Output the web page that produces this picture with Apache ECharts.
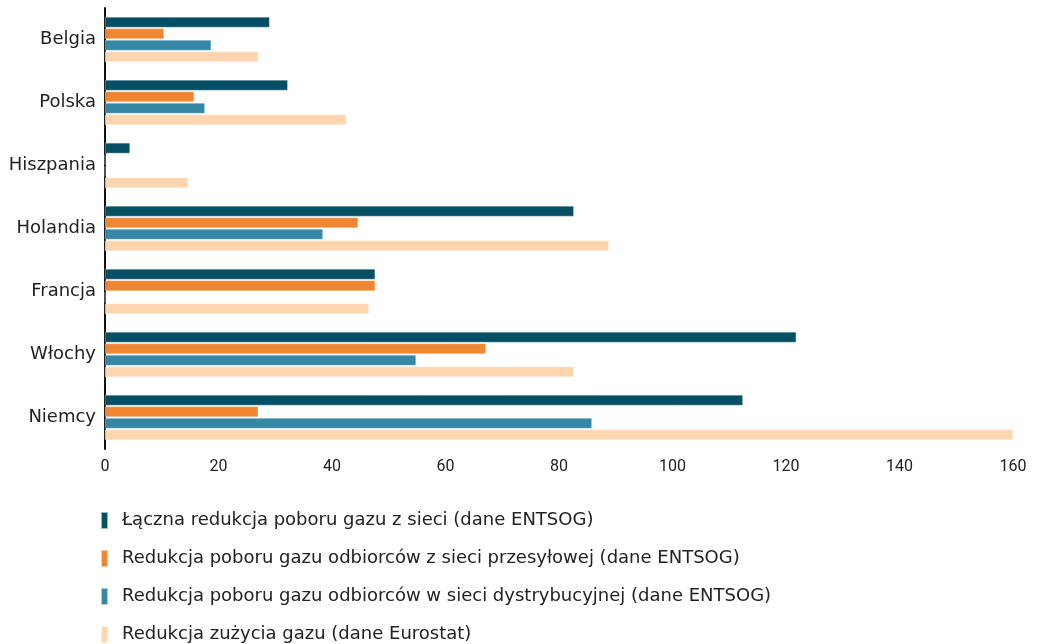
<!DOCTYPE html>
<html><head><meta charset="utf-8">
<script src="https://cdn.jsdelivr.net/npm/echarts@6/dist/echarts.min.js"></script>
<style>html,body{margin:0;padding:0;background:#fff}#c{width:1042px;height:644px}</style>
</head><body><div id="c"></div>
<script>
const categories = ['Belgia','Polska','Hiszpania','Holandia','Francja','Włochy','Niemcy'];
const seriesNames = [
  'Łączna redukcja poboru gazu z sieci (dane ENTSOG)',
  'Redukcja poboru gazu odbiorców z sieci przesyłowej (dane ENTSOG)',
  'Redukcja poboru gazu odbiorców w sieci dystrybucyjnej (dane ENTSOG)',
  'Redukcja zużycia gazu (dane Eurostat)'
];
const totalEntsog = [29.0, 32.2, 4.4, 82.6, 47.6, 121.8, 112.4];
const transmission = [10.4, 15.7, 0, 44.6, 47.6, 67.1, 27.0];
const distribution = [18.7, 17.6, 0, 38.4, 0, 54.8, 85.8];
const eurostat = [27.0, 42.5, 14.6, 88.8, 46.5, 82.6, 160];
const xTicks = [0, 20, 40, 60, 80, 100, 120, 140, 160];
const colors = ['#044f63', '#f08532', '#3488a5', '#fdd6b0'];
const values = [totalEntsog, transmission, distribution, eurostat];

const chart = echarts.init(document.getElementById('c'));
chart.setOption({
  animation: false,
  grid: {left: 105, right: 29, top: 8, bottom: 195, containLabel: false},
  legend: {
    orient: 'vertical', left: 100, top: 511, height: 140, padding: 0,
    itemWidth: 7, itemHeight: 17, itemGap: 19,
    icon: 'rect',
    textStyle: {fontFamily: 'DejaVu Sans, sans-serif', fontSize: 18, lineHeight: 17, color: '#222', padding: [0, 0, 0, 9]},
    data: seriesNames
  },
  xAxis: {
    type: 'value', min: xTicks[0], max: xTicks[xTicks.length-1], interval: 20,
    axisLine: {show: false}, axisTick: {show: false}, splitLine: {show: false},
    axisLabel: {fontFamily: 'Roboto, sans-serif', fontSize: 16, color: '#222', margin: 10}
  },
  yAxis: {
    type: 'category', data: categories, inverse: true,
    axisLine: {show: true, lineStyle: {color: '#111', width: 2}},
    axisTick: {show: false},
    axisLabel: {fontFamily: 'DejaVu Sans, sans-serif', fontSize: 18, color: '#222', margin: 9}
  },
  series: seriesNames.map((n, i) => ({
    name: n, type: 'bar', data: values[i],
    barWidth: 10.5, barGap: '10%', barCategoryGap: '28%',
    itemStyle: {color: colors[i], borderColor: 'rgba(255,255,255,0.6)', borderWidth: 0.5}
  }))
});
</script></body></html>
